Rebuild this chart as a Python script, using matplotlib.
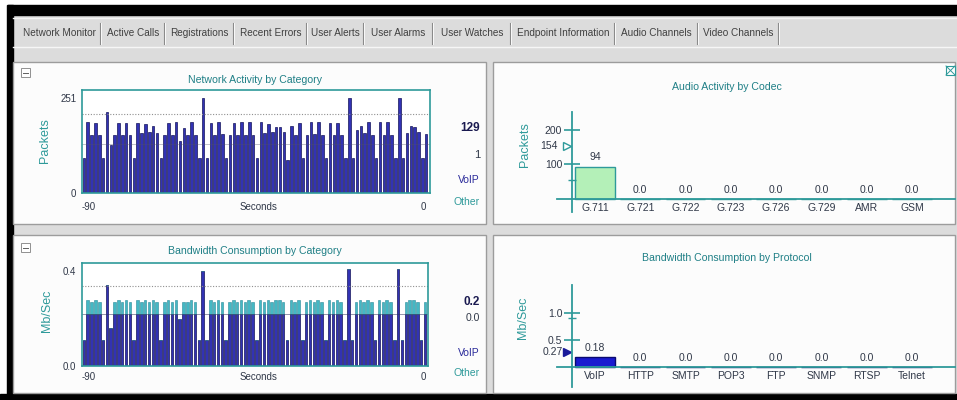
import numpy as np
import matplotlib
matplotlib.use('Agg')
import matplotlib.pyplot as plt
from matplotlib.patches import Rectangle

plt.rcParams['font.family'] = ['Liberation Sans', 'DejaVu Sans']

W, H = 957, 400

# Tabs of the monitor window
tabs = ['Network Monitor', 'Active Calls', 'Registrations', 'Recent Errors', 'User Alerts',
        'User Alarms', 'User Watches', 'Endpoint Information', 'Audio Channels', 'Video Channels']
tab_edges = [16, 100, 164, 233, 306, 363, 432, 510, 614, 697, 778]

# Network activity by category: packets per second over the last 90 s
seconds = np.arange(-89, 1)
packets = [92, 188, 153, 184, 153, 92, 215, 127, 153, 184,
           153, 184, 153, 92, 184, 158, 181, 162, 178, 158,
           92, 153, 184, 153, 187, 136, 171, 153, 187, 153,
           92, 250, 92, 184, 153, 188, 155, 92, 153, 184,
           153, 187, 153, 187, 153, 92, 188, 158, 181, 162,
           175, 175, 162, 88, 178, 153, 184, 92, 153, 188,
           155, 187, 153, 92, 184, 153, 184, 153, 92, 250,
           92, 166, 178, 159, 187, 153, 92, 188, 153, 188,
           153, 92, 251, 92, 159, 178, 175, 162, 92, 155]
packets_max = 251
packets_voip_now = '129'
packets_other_now = '1'

# Bandwidth consumption by category (Mb/s), VoIP part and Other part
bw_voip = [0.11, 0.22, 0.22, 0.22, 0.22, 0.11, 0.34, 0.16, 0.22, 0.22,
           0.22, 0.22, 0.22, 0.11, 0.22, 0.22, 0.22, 0.22, 0.22, 0.22,
           0.11, 0.22, 0.22, 0.22, 0.22, 0.20, 0.22, 0.22, 0.22, 0.22,
           0.11, 0.40, 0.11, 0.22, 0.22, 0.22, 0.22, 0.11, 0.22, 0.22,
           0.22, 0.22, 0.22, 0.22, 0.22, 0.11, 0.22, 0.22, 0.22, 0.22,
           0.22, 0.22, 0.22, 0.11, 0.22, 0.22, 0.22, 0.11, 0.22, 0.22,
           0.22, 0.22, 0.22, 0.11, 0.22, 0.22, 0.22, 0.22, 0.11, 0.41,
           0.11, 0.22, 0.22, 0.22, 0.22, 0.22, 0.11, 0.22, 0.22, 0.22,
           0.22, 0.11, 0.41, 0.11, 0.22, 0.22, 0.22, 0.22, 0.11, 0.22]
bw_other = [0.0, 0.06, 0.05, 0.06, 0.05, 0.0, 0.0, 0.0, 0.05, 0.06,
            0.05, 0.06, 0.05, 0.0, 0.06, 0.05, 0.06, 0.05, 0.06, 0.05,
            0.0, 0.05, 0.06, 0.05, 0.06, 0.0, 0.05, 0.05, 0.06, 0.05,
            0.0, 0.0, 0.0, 0.06, 0.05, 0.06, 0.05, 0.0, 0.05, 0.06,
            0.05, 0.06, 0.05, 0.06, 0.05, 0.0, 0.06, 0.05, 0.06, 0.05,
            0.06, 0.06, 0.05, 0.0, 0.06, 0.05, 0.06, 0.0, 0.05, 0.06,
            0.05, 0.06, 0.05, 0.0, 0.06, 0.05, 0.06, 0.05, 0.0, 0.0,
            0.0, 0.05, 0.06, 0.05, 0.06, 0.05, 0.0, 0.06, 0.05, 0.06,
            0.05, 0.0, 0.0, 0.0, 0.05, 0.06, 0.06, 0.05, 0.0, 0.05]
bw_max = 0.4
bw_voip_now = '0.2'
bw_other_now = '0.0'

# Audio activity by codec (packets)
codecs = ['G.711', 'G.721', 'G.722', 'G.723', 'G.726', 'G.729', 'AMR', 'GSM']
codec_packets = [94, 0, 0, 0, 0, 0, 0, 0]
codec_marker = 154

# Bandwidth consumption by protocol (Mb/s)
protocols = ['VoIP', 'HTTP', 'SMTP', 'POP3', 'FTP', 'SNMP', 'RTSP', 'Telnet']
protocol_mbps = [0.18, 0, 0, 0, 0, 0, 0, 0]
protocol_marker = 0.27

TEAL = '#2e9a9a'
TITLE = '#1f7f86'
DARK = '#303848'
NAVY = '#2a2a9a'
BAR = '#3232b4'
CAP = '#44b8c4'

fig = plt.figure(figsize=(W / 100, H / 100), dpi=100)
fig.patch.set_facecolor('#dcdcdc')


def px_axes(x0, y0, x1, y1):
    return fig.add_axes([x0 / W, 1 - y1 / H, (x1 - x0) / W, (y1 - y0) / H])


# window chrome drawn in pixel coordinates
bg = px_axes(0, 0, W, H)
bg.set_xlim(0, W)
bg.set_ylim(H, 0)
bg.axis('off')
bg.add_patch(Rectangle((0, 0), W, 5, color='white'))
bg.add_patch(Rectangle((0, 5), W, 10, color='black'))
bg.add_patch(Rectangle((0, 0), 7, H, color='white'))
bg.add_patch(Rectangle((7, 5), 6, H, color='black'))
bg.add_patch(Rectangle((0, 394), W, 6, color='black'))
bg.plot([13, W], [18, 18], color='#f4f4f4', lw=1)

for i, name in enumerate(tabs):
    x0, x1 = tab_edges[i], tab_edges[i + 1]
    bg.text((x0 + x1) / 2 + 1, 33, name, fontsize=7.2, color='#404040', ha='center', va='center')
    bg.plot([x1, x1], [23, 44], color='#8a8a8a', lw=0.8)
    bg.plot([x1 + 1, x1 + 1], [23, 44], color='white', lw=0.6)
bg.plot([13, W], [47, 47], color='#f6f6f6', lw=1)

panels = [(13, 62, 486, 224), (493, 62, 955, 224), (13, 235, 486, 393), (493, 235, 955, 393)]
for x0, y0, x1, y1 in panels:
    bg.add_patch(Rectangle((x0, y0), x1 - x0, y1 - y0, facecolor='#fcfcfc', edgecolor='#9c9c9c', lw=1))

# collapse boxes and close box
for y in (68, 243):
    bg.add_patch(Rectangle((21, y), 9, 9, facecolor='white', edgecolor='#909090', lw=0.7))
    bg.plot([23, 28], [y + 4.5, y + 4.5], color='#606060', lw=0.7)
bg.add_patch(Rectangle((946, 66), 9, 9, facecolor='white', edgecolor=TEAL, lw=0.8))
bg.plot([946, 955], [66, 75], color=TEAL, lw=0.7)
bg.plot([946, 955], [75, 66], color=TEAL, lw=0.7)

# titles and labels
bg.text(255, 80, 'Network Activity by Category', fontsize=7.6, color=TITLE, ha='center', va='center')
bg.text(255, 251, 'Bandwidth Consumption by Category', fontsize=7.6, color=TITLE, ha='center', va='center')
bg.text(727, 87, 'Audio Activity by Codec', fontsize=7.6, color=TITLE, ha='center', va='center')
bg.text(727, 258, 'Bandwidth Consumption by Protocol', fontsize=7.6, color=TITLE, ha='center', va='center')
bg.text(45, 141, 'Packets', fontsize=9, color=TEAL, rotation=90, ha='center', va='center')
bg.text(47, 311, 'Mb/Sec', fontsize=9, color=TEAL, rotation=90, ha='center', va='center')
bg.text(525, 145, 'Packets', fontsize=9, color=TEAL, rotation=90, ha='center', va='center')
bg.text(523, 318, 'Mb/Sec', fontsize=9, color=TEAL, rotation=90, ha='center', va='center')

for ytop in (207, 377):
    bg.text(89, ytop, '-90', fontsize=7, color=DARK, ha='center', va='center')
    bg.text(258, ytop, 'Seconds', fontsize=7, color=DARK, ha='center', va='center')
    bg.text(423, ytop, '0', fontsize=7, color=DARK, ha='center', va='center')

bg.text(480, 128, packets_voip_now, fontsize=8.5, color='#1a1a50', fontweight='bold', ha='right', va='center')
bg.text(480, 155, packets_other_now, fontsize=8, color=DARK, ha='right', va='center')
bg.text(480, 302, bw_voip_now, fontsize=8.5, color='#1a1a50', fontweight='bold', ha='right', va='center')
bg.text(480, 318, bw_other_now, fontsize=7.5, color=DARK, ha='right', va='center')
for yv, yo in ((180, 202), (353, 373)):
    bg.text(480, yv, 'VoIP', fontsize=7.5, color=NAVY, ha='right', va='center')
    bg.text(480, yo, 'Other', fontsize=7.5, color=TEAL, ha='right', va='center')


def style_box(ax):
    ax.set_facecolor('white')
    for s in ax.spines.values():
        s.set_color(TEAL)
        s.set_linewidth(1.2)
    ax.set_xticks([])
    ax.tick_params(axis='y', length=0, pad=4, labelsize=7, labelcolor=DARK)


# packets over time
ax1 = px_axes(82, 90, 430, 193)
style_box(ax1)
ax1.bar(seconds, packets, width=0.66, color=BAR, edgecolor='#14145a', linewidth=0.5)
ax1.axhline(209, color='#909090', lw=0.8, ls=(0, (1, 1.5)))
ax1.axhline(int(packets_voip_now), color='#505070', lw=0.5, alpha=0.5)
ax1.set_xlim(-89.5, 1.0)
ax1.set_ylim(0, 272)
ax1.set_yticks([0, packets_max], ['0', str(packets_max)])

# bandwidth over time
ax2 = px_axes(82, 263, 428, 366)
style_box(ax2)
ax2.bar(seconds, bw_voip, width=0.66, color=BAR, edgecolor='#14145a', linewidth=0.5)
ax2.bar(seconds, bw_other, bottom=bw_voip, width=0.66, color=CAP, edgecolor='#2a8a98', linewidth=0.4)
ax2.axhline(0.337, color='#909090', lw=0.8, ls=(0, (1, 1.5)))
ax2.axhline(0.22, color='#303060', lw=0.6, alpha=0.6)
ax2.set_xlim(-89.5, 0.8)
ax2.set_ylim(0, 0.434)
ax2.set_yticks([0, bw_max], ['0.0', f'{bw_max:.1f}'])


def category_axes(rect, ylim, axis_x, cats, vals, face, edge, fmt):
    ax = px_axes(*rect)
    ax.set_facecolor('none')
    ax.set_xlim(-0.839, 7.95)
    ax.set_ylim(*ylim)
    for s in ('top', 'right'):
        ax.spines[s].set_visible(False)
    ax.spines['left'].set_position(('data', axis_x))
    ax.spines['bottom'].set_position(('data', 0))
    for s in ('left', 'bottom'):
        ax.spines[s].set_color(TEAL)
        ax.spines[s].set_linewidth(1.3)
    x = np.arange(len(cats))
    bars = ax.bar(x, vals, width=0.88, color=face, edgecolor=edge, linewidth=1)
    ax.bar_label(bars, labels=[fmt(v) for v in vals], padding=3, fontsize=7.5, color=DARK)
    ax.set_xticks(x, cats)
    ax.tick_params(axis='x', length=0, pad=3, labelsize=7.5, labelcolor=DARK)
    ax.tick_params(axis='y', which='major', direction='inout', length=12, width=1.2,
                   color=TEAL, labelsize=7.5, labelcolor=DARK, pad=1)
    ax.tick_params(axis='y', which='minor', direction='inout', length=6, width=1, color=TEAL)
    return ax


ax3 = category_axes((557, 112, 955, 212), (-37.7, 252), -0.508, codecs, codec_packets,
                    '#b4f0b8', TEAL, lambda v: f'{v:.0f}' if v >= 1 else f'{v:.1f}')
ax3.set_yticks([100, 200])
ax3.set_yticks([55], minor=True)
ax3.plot([-0.62], [codec_marker], marker='>', ms=6, mfc='white', mec=TEAL, mew=1, clip_on=False)
ax3.text(-0.83, codec_marker, str(codec_marker), fontsize=7.5, color=DARK, ha='right', va='center')

ax4 = category_axes((557, 285, 955, 387), (-0.37, 1.52), -0.508, protocols, protocol_mbps,
                    '#1a1ad0', '#0a0a70', lambda v: f'{v:.2f}' if v > 0 else f'{v:.1f}')
ax4.set_yticks([0.5, 1.0], ['0.5', '1.0'])
ax4.set_yticks([0.9], minor=True)
ax4.plot([-0.62], [protocol_marker], marker='>', ms=6, color='#1a1a9a', clip_on=False)
ax4.text(-0.72, protocol_marker, f'{protocol_marker:.2f}', fontsize=7.5, color=DARK, ha='right', va='center')

fig.savefig('out.png', dpi=100, facecolor=fig.get_facecolor())
